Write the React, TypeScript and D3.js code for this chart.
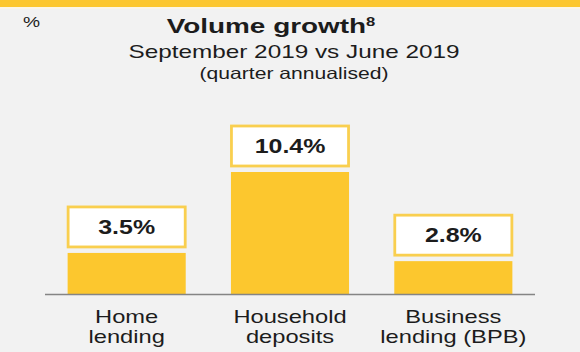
import { useRef, useEffect } from 'react'
import * as d3 from 'd3'

// chart data
const categories = ['Home lending', 'Household deposits', 'Business lending (BPB)']
const categoryLines = [
  ['Home', 'lending'],
  ['Household', 'deposits'],
  ['Business', 'lending (BPB)'],
]
const values = [3.5, 10.4, 2.8]
const valueLabels = ['3.5%', '10.4%', '2.8%']

const W = 580
const H = 352
const YELLOW = '#fcc72e'
const BOX_STROKE = '#f9cf4f'
const INK = '#1c1c1c'
const FONT = "'Liberation Sans', Arial, sans-serif"
// the source picture is stretched sideways, so text gets a horizontal scale
const SX = 1.28

export default function App() {
  const svgRef = useRef<SVGSVGElement>(null)

  useEffect(() => {
    const svg = d3.select(svgRef.current)
    svg.selectAll('*').remove()

    svg.append('rect').attr('width', W).attr('height', H).attr('fill', '#f2f2f2')
    svg.append('rect').attr('width', W).attr('height', 7).attr('fill', YELLOW)
    svg.append('rect').attr('y', 7).attr('width', W).attr('height', 2).attr('fill', '#fbf6e6')

    const text = (x: number, y: number, size: number, weight = 'normal', sx = SX) =>
      svg
        .append('text')
        .attr('transform', `translate(${x},${y}) scale(${sx},1)`)
        .attr('text-anchor', 'middle')
        .attr('font-family', FONT)
        .attr('font-size', size)
        .attr('font-weight', weight)
        .attr('fill', INK)

    // headings
    svg
      .append('text')
      .attr('transform', `translate(23,27) scale(${SX},1)`)
      .attr('font-family', FONT)
      .attr('font-size', 15)
      .attr('fill', INK)
      .text('%')

    const title = text(271, 33, 21, 'bold', 1.33)
    title.append('tspan').text('Volume growth')
    title.append('tspan').attr('font-size', 12.5).attr('dy', -7.5).text('8')

    text(294, 58, 19).text('September 2019 vs June 2019')
    text(294, 78.5, 16.5).text('(quarter annualised)')

    const x = d3.scaleBand().domain(categories).range([45, 535]).paddingInner(0.277).paddingOuter(0.1385)
    const y = d3.scaleLinear().domain([0, 10.4]).range([294, 172])

    categories.forEach((c, i) => {
      const x0 = x(c) as number
      const bw = x.bandwidth()
      const cx = x0 + bw / 2
      const top = y(values[i])

      svg
        .append('rect')
        .attr('x', x0)
        .attr('y', top)
        .attr('width', bw)
        .attr('height', y(0) - top)
        .attr('fill', YELLOW)

      // value box sitting just above the bar
      const boxH = 40
      const boxBottom = top - 6
      svg
        .append('rect')
        .attr('x', x0 + 0.5)
        .attr('y', boxBottom - boxH)
        .attr('width', bw - 1)
        .attr('height', boxH)
        .attr('fill', '#ffffff')
        .attr('stroke', BOX_STROKE)
        .attr('stroke-width', 2.8)

      text(cx, boxBottom - boxH / 2 + 7, 19.5, 'bold').text(valueLabels[i])

      categoryLines[i].forEach((line, j) => {
        text(cx, 323 + j * 20, 18.5).text(line)
      })
    })

    // baseline
    svg
      .append('line')
      .attr('x1', 45)
      .attr('x2', 535)
      .attr('y1', y(0) + 0.5)
      .attr('y2', y(0) + 0.5)
      .attr('stroke', '#858585')
      .attr('stroke-width', 1.5)
  }, [])

  return (
    <svg
      ref={svgRef}
      width={W}
      height={H}
      style={{ position: 'absolute', left: 0, top: 0, display: 'block' }}
    />
  )
}
